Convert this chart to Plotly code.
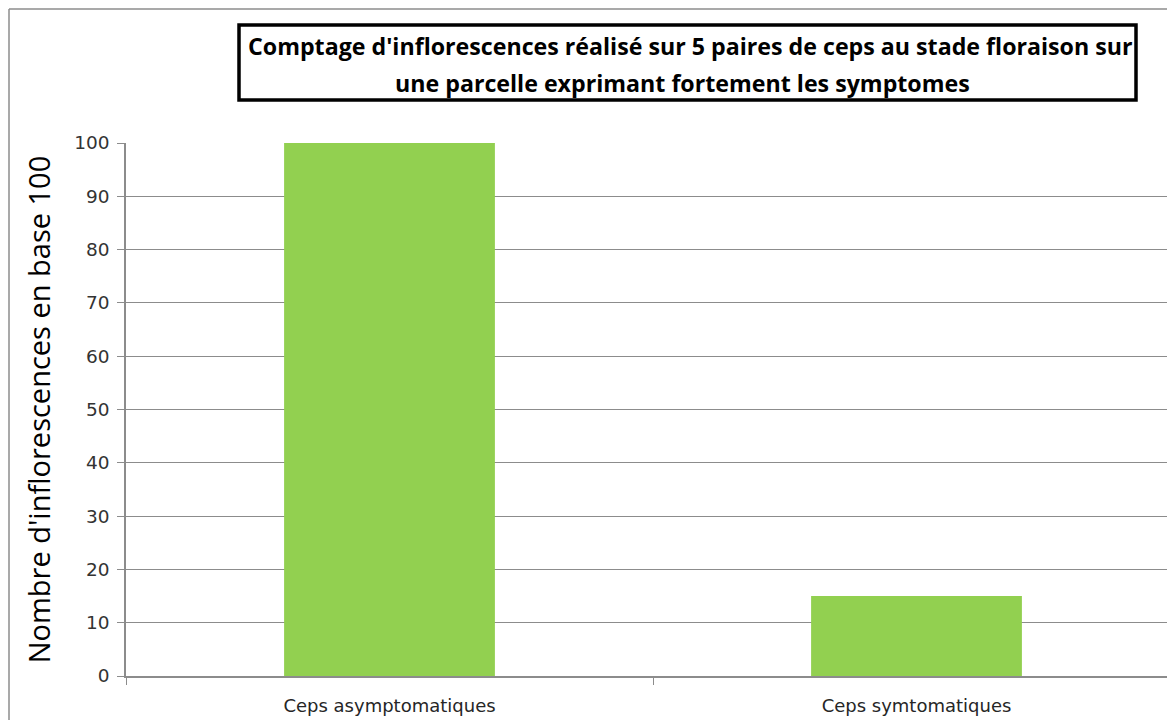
import plotly.graph_objects as go

categories = ["Ceps asymptomatiques", "Ceps symtomatiques"]
values = [100, 15]
y_ticks = [0, 10, 20, 30, 40, 50, 60, 70, 80, 90, 100]
title_line1 = "Comptage d'inflorescences réalisé sur 5 paires de ceps au stade floraison sur"
title_line2 = "une parcelle exprimant fortement les symptomes"
y_title = "Nombre d'inflorescences en base 100"

W, H = 1175, 720
OFF = 8  # page body margin
L, T = 126 - OFF, 143 - OFF
R = W - (1175 - OFF)
B = H - (676 - OFF)
pw, ph = W - L - R, H - T - B


def px_x(p):  # p: screen pixel
    return (p - OFF - L) / pw


def px_y(p):
    return (H - B - (p - OFF)) / ph


fig = go.Figure()
fig.add_trace(go.Bar(x=categories, y=values, marker=dict(color="#92D050", line=dict(width=0)),
                     width=0.4))

grid = "#8c8c8c"
fig.update_layout(
    width=W, height=H,
    margin=dict(l=L, r=R, t=T, b=B, autoexpand=False),
    paper_bgcolor="white", plot_bgcolor="white",
    showlegend=False,
    font=dict(family="DejaVu Sans", color="#404040"),
)
fig.update_xaxes(
    range=[-0.5, 1.5 - 5 / 527], showline=True, linecolor=grid, linewidth=1.5,
    ticks="outside", tickson="boundaries", ticklen=7, tickcolor=grid,
    tickfont=dict(family="DejaVu Sans", size=18, color="#262626"),
    ticklabelstandoff=13, showgrid=False,
)
fig.update_yaxes(
    range=[0, 100], tickvals=y_ticks, showline=True, linecolor=grid, linewidth=1.5,
    ticks="outside", ticklen=7, tickcolor=grid,
    showgrid=True, gridcolor=grid, gridwidth=1,
    tickfont=dict(family="DejaVu Sans", size=18.5, color="#333333"),
    ticklabelstandoff=4,
    title=dict(text=y_title, font=dict(family="Open Sans", size=29, color="black"), standoff=15),
    zeroline=False,
)

# outer chart border (left and top edges visible)
fig.add_shape(type="line", xref="paper", yref="paper",
              x0=px_x(9), x1=px_x(9), y0=px_y(9), y1=px_y(H + 20),
              line=dict(color="#8c8c8c", width=1.5))
fig.add_shape(type="line", xref="paper", yref="paper",
              x0=px_x(9), x1=px_x(W + 20), y0=px_y(9), y1=px_y(9),
              line=dict(color="#8c8c8c", width=1.5))
# title box
fig.add_shape(type="rect", xref="paper", yref="paper",
              x0=px_x(239), x1=px_x(1136), y0=px_y(25), y1=px_y(100),
              line=dict(color="black", width=3.5), fillcolor="white")
tfont = dict(family="Open Sans", size=23.2, color="black", weight="bold")
fig.add_annotation(xref="paper", yref="paper", x=px_x(690), y=px_y(46),
                   text=title_line1, showarrow=False, font=tfont,
                   xanchor="center", yanchor="middle")
fig.add_annotation(xref="paper", yref="paper", x=px_x(682), y=px_y(83),
                   text=title_line2, showarrow=False, font=tfont,
                   xanchor="center", yanchor="middle")

fig.write_html("out.html")
